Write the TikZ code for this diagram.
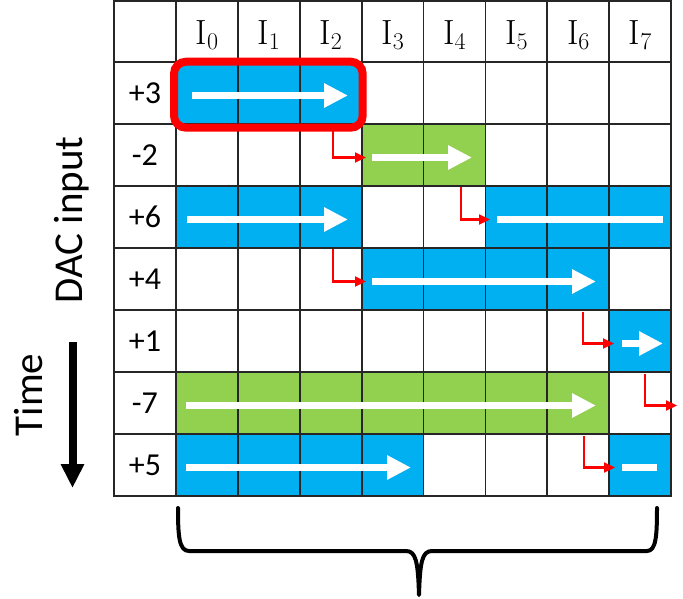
\documentclass[tikz,border=0pt]{standalone}
\usepackage{fontspec}
\newfontfamily\lblfont{Carlito}
\usetikzlibrary{arrows.meta}
\definecolor{cblue}{HTML}{00B0F0}
\definecolor{cgreen}{HTML}{92D050}
\definecolor{cred}{HTML}{FF0000}
\tikzset{
 gridline/.style={line width=1.8pt, draw=black!85, line cap=rect},
 whitearrow/.style={draw=white, line width=7pt, -{Triangle[length=24pt,width=23pt]}},
 whitebar/.style={draw=white, line width=7pt},
 redstep/.style={draw=cred, line width=2.2pt, -{Triangle[length=11pt,width=10pt]}},
 rowlbl/.style={font=\lblfont\fontsize{32}{36}\selectfont, inner sep=0pt},
 hdr/.style={font=\fontsize{35}{40}\selectfont, inner sep=0pt, anchor=base},
 sidelbl/.style={font=\lblfont\fontsize{41}{46}\selectfont, inner sep=0pt, anchor=base, rotate=90},
 bluecell/.style={fill=cblue},
 greencell/.style={fill=cgreen},
}
\newcommand{\hlab}[1]{I\raisebox{-5pt}{\fontsize{24}{26}\selectfont #1}}
\begin{document}
\begin{tikzpicture}[x=1pt,y=-1pt]
\useasboundingbox (0,0) rectangle (683,599);
% fills
\fill[bluecell] (175.9,62) rectangle (361.6,124);
\fill[greencell] (361.6,124) rectangle (485.4,186);
\fill[bluecell] (175.9,186) rectangle (361.6,248);
\fill[bluecell] (485.4,186) rectangle (671.1,248);
\fill[bluecell] (361.6,248) rectangle (609.2,310);
\fill[bluecell] (609.2,310) rectangle (671.1,372);
\fill[greencell] (175.9,372) rectangle (609.2,434);
\fill[bluecell] (175.9,434) rectangle (423.5,496);
\fill[bluecell] (609.2,434) rectangle (671.1,496);
% grid
\foreach \x in {114,175.9,237.8,299.7,361.6,423.5,485.4,547.3,609.2,671.1}
  \draw[gridline] (\x,1) -- (\x,496);
\foreach \y in {1,62,124,186,248,310,372,434,496}
  \draw[gridline] (114,\y) -- (671.1,\y);
% header
\foreach \i/\x in {0/206.85,1/268.75,2/330.65,3/392.55,4/454.45,5/516.35,6/578.25,7/640.15}
  \node[hdr] (h\i) at (\x,45) {\hlab{\i}};
% row labels
\node[rowlbl] (r1) at (144.95,93) {+3};
\node[rowlbl] (r2) at (144.95,155) {-2};
\node[rowlbl] (r3) at (144.95,217) {+6};
\node[rowlbl] (r4) at (144.95,279) {+4};
\node[rowlbl] (r5) at (144.95,341) {+1};
\node[rowlbl] (r6) at (144.95,403) {-7};
\node[rowlbl] (r7) at (144.95,465) {+5};
% white arrows
\coordinate (a1s) at (192,95.5);  \coordinate (a1e) at (348,95.5);
\coordinate (a2s) at (372,157.5); \coordinate (a2e) at (472,157.5);
\coordinate (a3s) at (187,219.5); \coordinate (a3e) at (348,219.5);
\coordinate (b3s) at (497,219.5); \coordinate (b3e) at (663,219.5);
\coordinate (a4s) at (372,281.5); \coordinate (a4e) at (596,281.5);
\coordinate (a5s) at (622,343.5); \coordinate (a5e) at (663,343.5);
\coordinate (a6s) at (186,405.5); \coordinate (a6e) at (596,405.5);
\coordinate (a7s) at (186,467.5); \coordinate (a7e) at (411,467.5);
\coordinate (b7s) at (622,467.5); \coordinate (b7e) at (657,467.5);
\draw[whitearrow] (a1s) -- (a1e);
\draw[whitearrow] (a2s) -- (a2e);
\draw[whitearrow] (a3s) -- (a3e);
\draw[whitebar] (b3s) -- (b3e);
\draw[whitearrow] (a4s) -- (a4e);
\draw[whitearrow] (a5s) -- (a5e);
\draw[whitearrow] (a6s) -- (a6e);
\draw[whitearrow] (a7s) -- (a7e);
\draw[whitebar] (b7s) -- (b7e);
% red highlight box
\draw[cred, line width=8pt, rounded corners=12pt] (174,61.7) rectangle (362.7,127.7);
% red elbow arrows
\coordinate (e2s) at (333,131); \coordinate (e2e) at (366,157.5);
\coordinate (e3s) at (461,187); \coordinate (e3e) at (490,219.5);
\coordinate (e4s) at (333,249); \coordinate (e4e) at (366,281.5);
\coordinate (e5s) at (583,312); \coordinate (e5e) at (614,343.5);
\coordinate (e6s) at (645,374); \coordinate (e6e) at (677,405.5);
\coordinate (e7s) at (584,436); \coordinate (e7e) at (615,467.5);
\draw[redstep] (e2s) |- (e2e);
\draw[redstep] (e3s) |- (e3e);
\draw[redstep] (e4s) |- (e4e);
\draw[redstep] (e5s) |- (e5e);
\draw[redstep] (e6s) |- (e6e);
\draw[redstep] (e7s) |- (e7e);
% side labels
\node[sidelbl] (dac) at (82,220) {DAC input};
\node[sidelbl] (time) at (42,395) {Time};
\coordinate (ts) at (72.5,342);
\coordinate (te) at (72.5,488);
\draw[line width=8pt, -{Triangle[length=24pt,width=22pt]}] (ts) -- (te);
% brace
\draw[line width=4pt, line join=round, line cap=round]
  (178,508) .. controls (178,536) and (179,551) .. (189,551)
  -- (406,551) .. controls (416,551) and (418,562) .. (419,595)
  .. controls (420,562) and (422,551) .. (432,551)
  -- (647,551) .. controls (656,551) and (657,536) .. (657,508);
\end{tikzpicture}
\end{document}
